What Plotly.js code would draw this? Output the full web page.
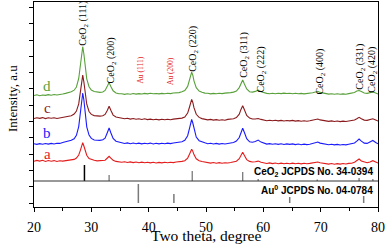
<!DOCTYPE html>
<html>
<head>
<meta charset="utf-8">
<script src="https://cdn.plot.ly/plotly-3.0.1.min.js"></script>
<style>html,body{margin:0;padding:0;background:#fff;}#chart{width:390px;height:244px;}</style>
</head>
<body>
<div id="chart"></div>
<script>
// 2-theta grid (degree)
const twoTheta = [
20,20.5,21,21.5,22,22.5,23,23.5,24,24.5,25,25.5,26,
26.5,27,27.4,27.8,28.1,28.3,28.5,28.7,28.9,29.2,29.6,30,30.5,31,31.5,32,32.4,32.8,33.1,33.4,33.8,34.3,34.8,35.3,
35.8,36.3,36.8,37.3,37.8,38.3,38.8,39.3,39.8,40.3,40.8,41.3,41.8,42.3,42.8,43.3,43.8,44.3,44.8,45.3,45.8,
46.3,46.8,47.1,47.3,47.5,47.7,47.9,48.3,48.8,49.3,49.8,
50.3,50.8,51.3,51.8,52.3,52.8,53.3,53.8,54.3,54.8,55.3,55.8,56.1,56.4,56.7,57.1,57.6,58.1,58.6,59.1,59.6,60.1,60.6,
61.1,61.6,62.1,62.6,63.1,63.6,64.1,64.6,65.1,65.6,66.1,66.6,67.1,67.6,68.1,
68.6,69.1,69.5,69.9,70.4,70.9,71.4,71.9,72.4,72.9,73.4,73.9,74.4,74.9,75.4,75.9,76.3,76.7,77.1,77.6,78.1,78.6,79.1,79.6,80];

// stacked intensities (a.u., offset)
const sampleD = [
111.5,112.2,111.3,112.0,111.6,112.4,111.8,112.5,112.0,112.8,113.0,113.6,114.3,
115.2,116.8,120.0,128.5,141.5,153.5,160.3,153.0,141.0,128.2,120.3,117.0,115.5,114.8,114.6,115.0,116.6,120.9,124.4,120.5,116.2,114.0,113.2,113.3,
112.6,113.2,112.8,113.5,112.9,113.4,113.0,113.6,113.1,113.7,113.2,113.5,113.1,113.6,113.3,113.8,113.4,114.0,114.1,114.4,115.2,
116.5,120.6,126.4,132.0,134.8,131.8,126.2,119.3,115.9,114.8,113.9,
113.8,113.1,113.6,113.2,113.7,113.4,113.9,113.8,114.4,114.9,116.0,119.4,123.3,127.0,123.0,118.0,115.3,114.9,115.6,116.8,115.2,114.0,113.6,
113.2,113.7,113.3,113.8,113.4,113.9,113.5,113.8,113.3,113.7,113.2,113.6,113.1,113.5,113.3,
114.3,115.0,115.6,114.6,113.9,113.3,112.9,113.3,112.8,113.2,112.7,113.1,112.8,113.4,113.6,114.5,116.0,116.5,115.5,114.0,113.6,114.2,115.0,113.9,113.0];

const sampleC = [
88.5,89.3,88.6,89.4,88.4,89.2,88.7,89.3,88.5,89.0,89.4,89.8,90.4,
91.3,92.9,95.9,103.1,114.6,125.3,131.8,125.0,114.3,102.8,95.5,92.6,91.4,91.0,90.9,91.2,92.6,96.8,100.8,96.8,91.9,90.0,89.3,88.9,
88.2,88.8,87.9,88.5,87.7,88.3,87.5,88.2,87.4,87.9,87.2,87.8,87.1,87.7,87.2,87.8,87.3,87.9,88.1,88.4,88.9,
90.0,93.9,99.5,104.7,107.6,104.5,99.3,92.7,89.6,88.4,87.9,
87.1,87.6,86.9,87.4,86.8,87.3,86.8,87.6,87.7,88.3,89.4,92.8,97.6,101.2,97.2,91.6,88.9,88.0,88.0,88.5,87.6,86.9,86.3,
86.8,86.2,86.7,86.1,86.6,86.0,86.5,86.1,86.6,85.9,86.4,85.8,86.3,85.8,86.2,
86.8,87.5,88.0,87.1,86.5,86.0,85.6,86.1,85.5,86.0,85.4,85.9,85.5,86.0,86.3,87.0,88.3,89.7,88.2,86.9,86.6,87.2,88.2,87.0,86.0];

const sampleB = [
63.2,62.6,63.4,62.8,63.5,62.9,63.6,63.0,63.7,63.6,64.5,65.0,65.9,
66.7,68.2,71.7,80.4,94.3,107.2,114.0,107.0,94.1,80.2,71.9,68.6,67.0,66.5,66.6,67.3,68.8,74.5,79.0,74.2,68.5,65.8,64.9,64.3,
63.5,64.1,63.3,64.0,63.2,63.9,63.1,63.8,63.2,63.9,63.0,63.7,63.1,63.8,63.2,63.9,63.4,64.0,64.2,64.8,65.3,
66.7,71.3,78.1,84.2,87.5,84.0,78.0,69.9,66.3,64.9,64.2,
63.3,63.8,63.0,63.6,62.9,63.5,63.0,63.8,64.0,64.5,65.9,69.5,74.8,78.8,74.5,68.4,65.2,64.8,65.4,66.9,64.9,63.6,62.9,
63.4,62.7,63.3,62.6,63.2,62.5,63.1,62.6,63.1,62.4,63.0,62.3,62.9,62.4,62.8,
63.5,64.4,65.0,63.9,63.2,62.6,62.2,62.7,62.1,62.6,62.0,62.5,62.1,62.7,63.0,64.0,65.8,68.0,65.9,63.9,63.6,64.8,66.5,64.5,63.2];

const sampleA = [
45.8,46.6,45.9,46.7,45.6,46.5,45.7,46.4,45.5,46.2,45.9,46.5,46.4,
47.0,47.6,48.9,52.0,56.9,61.2,64.3,61.0,56.6,51.8,48.4,47.3,46.7,46.1,46.2,46.3,46.8,49.0,50.7,48.8,46.8,45.6,45.3,44.7,
45.2,44.5,45.1,44.4,45.0,44.3,44.9,44.2,44.8,44.1,44.7,44.0,44.6,44.1,44.7,44.2,44.8,44.4,45.0,45.0,45.6,
46.3,48.9,52.6,56.0,57.8,55.8,52.4,48.2,46.2,45.5,44.9,
44.6,43.9,44.5,43.8,44.4,43.7,44.3,44.0,44.5,44.9,45.8,48.3,51.9,54.7,51.6,47.4,45.6,45.0,45.2,45.9,44.7,44.2,43.5,
44.1,43.4,44.0,43.3,43.9,43.2,43.8,43.3,43.9,43.2,43.8,43.1,43.7,43.2,43.6,
43.9,44.6,45.0,44.3,43.7,43.2,42.9,43.5,42.8,43.4,42.9,43.5,43.0,43.6,43.8,44.8,46.2,48.0,46.0,44.8,44.2,45.0,46.3,45.0,44.0];

// reference patterns (stick positions and relative heights)
const ceoMainPos = [28.8];
const ceoMainH = [16];
const ceoPos = [33.1, 47.6, 56.4, 59.1, 69.4, 76.7, 79.1];
const ceoH = [6, 10, 9, 2, 1.5, 3, 2];
const auPos = [38.2, 44.4, 64.6, 77.5];
const auH = [19, 9, 6, 7];
const ceoBase = 26;
const auBase = 4;

const peakLabels = ['CeO<sub>2</sub> (111)','CeO<sub>2</sub> (200)','CeO<sub>2</sub> (220)','CeO<sub>2</sub> (311)','CeO<sub>2</sub> (222)','CeO<sub>2</sub> (400)','CeO<sub>2</sub> (331)','CeO<sub>2</sub> (420)'];
const auLabels = ['Au (111)','Au (200)'];
const sampleNames = ['d','c','b','a'];

function sticks(pos, h, base){
  const x=[], y=[];
  pos.forEach((p,i)=>{x.push(p,p,null); y.push(base, base+h[i], null);});
  return {x, y};
}

const colors = ['#58a03a','#8a1a1c','#1a1aff','#e31c1c'];
const series = [sampleD, sampleC, sampleB, sampleA];
const traces = series.map((s,i)=>({x: twoTheta, y: s, type:'scatter', mode:'lines',
  line:{color: colors[i], width:1.1}, hoverinfo:'skip', showlegend:false}));

const s1 = sticks(ceoMainPos, ceoMainH, ceoBase);
traces.push({x:s1.x, y:s1.y, mode:'lines', line:{color:'#000', width:1.5}, showlegend:false, hoverinfo:'skip'});
const s2 = sticks(ceoPos, ceoH, ceoBase);
traces.push({x:s2.x, y:s2.y, mode:'lines', line:{color:'#7a7a7a', width:1.3}, showlegend:false, hoverinfo:'skip'});
const s3 = sticks(auPos, auH, auBase);
traces.push({x:s3.x, y:s3.y, mode:'lines', line:{color:'#7a7a7a', width:1.5}, showlegend:false, hoverinfo:'skip'});

const serif = 'Liberation Serif, Times New Roman, serif';
const labelPosX = [28.6, 33.5, 47.7, 56.6, 59.6, 69.9, 76.8, 78.9];
const labelPosY = [183.5, 147, 158, 152, 137.5, 135.5, 140, 137];
const annotations = [];
peakLabels.forEach((t,i)=>annotations.push({x:labelPosX[i], y:labelPosY[i], text:t, textangle:-90,
  showarrow:false, xanchor:'center', yanchor:'middle', font:{family:serif, size:10, color:'#000'}}));
const auLX = [38.5, 43.8];
auLabels.forEach((t,i)=>annotations.push({x:auLX[i], y:136.5, text:t, textangle:-90,
  showarrow:false, xanchor:'center', yanchor:'middle', font:{family:serif, size:7.5, color:'#e31c1c'}}));
const nameY = [121, 99, 74, 53];
sampleNames.forEach((t,i)=>annotations.push({x:22.3, y:nameY[i], text:t, showarrow:false,
  xanchor:'center', yanchor:'middle', font:{family:serif, size:15, color:colors[i]}}));
annotations.push({x:79.5, y:35, text:'CeO<sub>2</sub> JCPDS No. 34-0394', showarrow:false, xanchor:'right', yanchor:'middle',
  font:{family:'Liberation Sans, Arial, sans-serif', size:10, color:'#000', weight:'bold'}});
annotations.push({x:79.5, y:17, text:'Au<sup>0</sup> JCPDS No. 04-0784', showarrow:false, xanchor:'right', yanchor:'middle',
  font:{family:'Liberation Sans, Arial, sans-serif', size:10, color:'#000', weight:'bold'}});
annotations.push({xref:'paper', yref:'paper', x:0, xshift:-21, y:0.527, text:'Intensity, a.u', textangle:-90,
  showarrow:false, xanchor:'center', yanchor:'middle', font:{family:serif, size:13, color:'#000'}});
annotations.push({xref:'paper', yref:'paper', x:0.5, y:0, yshift:-28, text:'Two theta, degree',
  showarrow:false, xanchor:'center', yanchor:'middle', font:{family:serif, size:15.5, color:'#000'}});

const layout = {
  width:390, height:244,
  margin:{l:34, r:12, t:2, b:37, pad:0},
  paper_bgcolor:'#fff', plot_bgcolor:'#fff',
  showlegend:false,
  xaxis:{range:[20,80], dtick:10, tick0:20, ticks:'outside', ticklen:4, tickwidth:1, tickcolor:'#000',
    minor:{dtick:5, ticks:'outside', ticklen:3, tickcolor:'#000'},
    showline:true, linecolor:'#000', linewidth:1, mirror:true, showgrid:false, zeroline:false,
    ticklabelstandoff:3,
    tickfont:{family:serif, size:14, color:'#000'}},
  yaxis:{range:[0,205], tick0:4, dtick:16.3, ticks:'outside', ticklen:4, tickcolor:'#000', showticklabels:false,
    showline:true, linecolor:'#000', linewidth:1, mirror:true, showgrid:false, zeroline:false},
  shapes:[{type:'line', xref:'paper', x0:0, x1:1, yref:'y', y0:ceoBase, y1:ceoBase, line:{color:'#333', width:1}}],
  annotations
};
Plotly.newPlot('chart', traces, layout, {staticPlot:true, displayModeBar:false});
</script>
</body>
</html>
